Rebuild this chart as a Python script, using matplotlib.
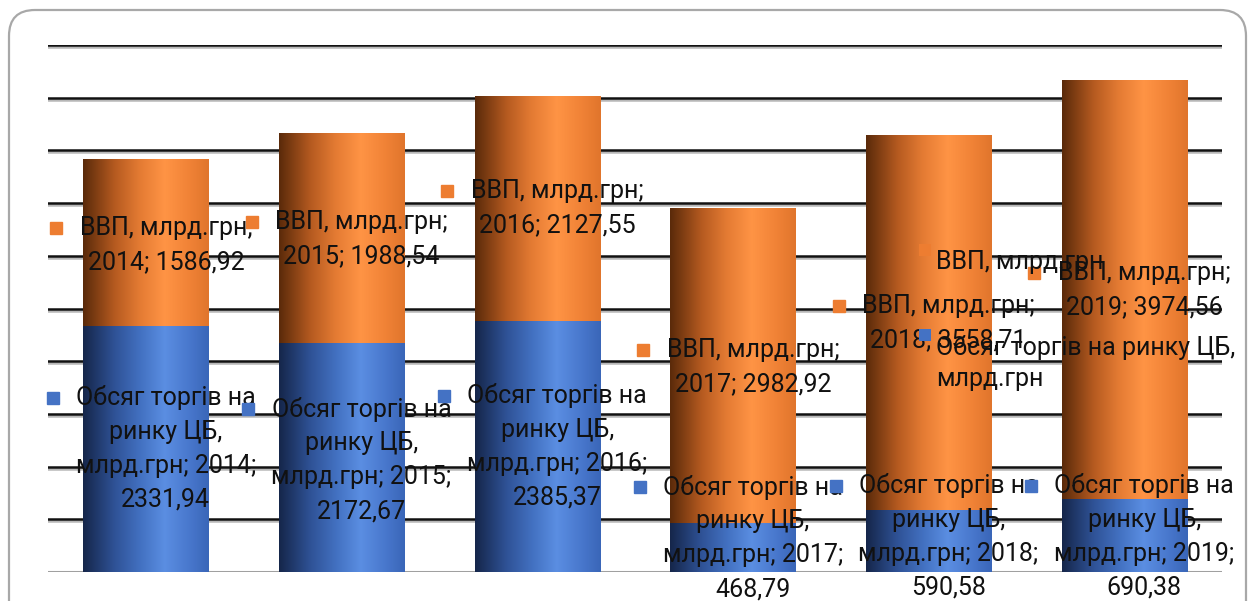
import matplotlib
matplotlib.use("Agg")
import matplotlib.pyplot as plt
import matplotlib.patheffects as pe
import numpy as np
from matplotlib.colors import LinearSegmentedColormap
from matplotlib.patches import FancyBboxPatch
from matplotlib.transforms import IdentityTransform, offset_copy

years = ["2014", "2015", "2016", "2017", "2018", "2019"]
trade_volume = [2331.94, 2172.67, 2385.37, 468.79, 590.58, 690.38]
gdp = [1586.92, 1988.54, 2127.55, 2982.92, 3558.71, 3974.56]

trade_name = "Обсяг торгів на ринку ЦБ, млрд.грн"
gdp_name = "ВВП, млрд.грн"

# label heights (first line), placed by hand in the original chart
gdp_label_y = [3264, 3320, 3615, 2106, 2524, 2837]
trade_label_y = [1651, 1546, 1670, 806, 816, 816]

ORANGE = "#ed7d31"
BLUE = "#4472c4"
TEXT = "#111111"

plt.rcParams["font.family"] = ["Roboto", "DejaVu Sans"]
FONT_SIZE = 18


def fmt(value):
    return f"{value:.2f}".replace(".", ",")


def cylinder(ax, bars, cmap):
    # paint every bar with a horizontal gradient clipped to the bar
    grad = np.linspace(0, 1, 256).reshape(1, -1)
    for bar in bars:
        x0, y0 = bar.get_x(), bar.get_y()
        w, h = bar.get_width(), bar.get_height()
        im = ax.imshow(
            grad,
            cmap=cmap,
            aspect="auto",
            extent=(x0, x0 + w, y0, y0 + h),
            interpolation="bilinear",
            zorder=3,
        )
        im.set_clip_path(bar)
        bar.set_facecolor("none")


orange_cmap = LinearSegmentedColormap.from_list(
    "orange_cyl",
    [(0.0, "#5a2a0a"), (0.25, "#b55a20"), (0.45, "#e47b33"),
     (0.65, "#ff9445"), (0.85, "#f08236"), (1.0, "#e0752c")],
)
blue_cmap = LinearSegmentedColormap.from_list(
    "blue_cyl",
    [(0.0, "#15264a"), (0.25, "#2f5296"), (0.45, "#4270c0"),
     (0.65, "#5b8ee2"), (0.85, "#4877cc"), (1.0, "#3a66b8")],
)

fig = plt.figure(figsize=(12.53, 6.01), dpi=100)

frame = FancyBboxPatch(
    (9, -30), 1237, 621,
    boxstyle="round,pad=0,rounding_size=26",
    transform=IdentityTransform(),
    facecolor="white",
    edgecolor="#a8a8a8",
    linewidth=1.6,
    zorder=-5,
)
fig.add_artist(frame)

ax = fig.add_axes([48 / 1253, 29 / 601, 1174 / 1253, 527 / 601])
ax.set_facecolor("none")

x = np.arange(len(years))
width = 0.64

trade_bars = ax.bar(x, trade_volume, width, zorder=3, linewidth=0)
gdp_bars = ax.bar(x, gdp, width, bottom=trade_volume, zorder=3, linewidth=0)
cylinder(ax, trade_bars, blue_cmap)
cylinder(ax, gdp_bars, orange_cmap)

shadow = [pe.SimpleLineShadow(offset=(0, -1.5), shadow_color="#888888", alpha=0.6), pe.Normal()]
for level in range(500, 5001, 500):
    ax.axhline(level, color="#111111", linewidth=1.8, zorder=2, path_effects=shadow)
ax.axhline(0, color="#a0a0a0", linewidth=2.2, zorder=2.5)

ax.set_xlim(-0.5, len(years) - 0.5)
ax.set_ylim(0, 5000)
for spine in ax.spines.values():
    spine.set_visible(False)
ax.set_xticks([])
ax.set_yticks([])

px = 0.72  # points per pixel at 100 dpi
line_step = 34


def data_label(i, y, lines, color, key_dx):
    for k, line in enumerate(lines):
        ax.annotate(
            line,
            xy=(i, y),
            xytext=(20 * px, -line_step * k * px),
            textcoords="offset points",
            ha="center",
            va="center",
            fontsize=FONT_SIZE,
            color=TEXT,
            zorder=5,
            annotation_clip=False,
        )
    key = offset_copy(ax.transData, fig=fig, x=(20 + key_dx) * px, y=0, units="points")
    ax.plot([i], [y], marker="s", markersize=9, color=color,
            linestyle="none", transform=key, zorder=5, clip_on=False)


for i, year in enumerate(years):
    data_label(i, gdp_label_y[i],
               ["ВВП, млрд.грн;", f"{year}; {fmt(gdp[i])}"], ORANGE, -110)
    data_label(i, trade_label_y[i],
               ["Обсяг торгів на", "ринку ЦБ,", f"млрд.грн; {year};", fmt(trade_volume[i])],
               BLUE, -113)

# legend, left where the original had it
legend_items = [
    (gdp_name, ORANGE, 250),
    ("Обсяг торгів на ринку ЦБ,\nмлрд.грн", BLUE, 335),
]
for label, color, top in legend_items:
    fig.text(936 / 1253, 1 - top / 601, label, ha="left", va="top",
             fontsize=FONT_SIZE, color=TEXT, linespacing=1.35,
             transform=fig.transFigure, zorder=6)
    fig.patches.append(plt.Rectangle((919, 601 - top - 6), 12, 12,
                                     transform=IdentityTransform(),
                                     facecolor=color, edgecolor="none", zorder=6))

fig.savefig("out.png", dpi=100)
